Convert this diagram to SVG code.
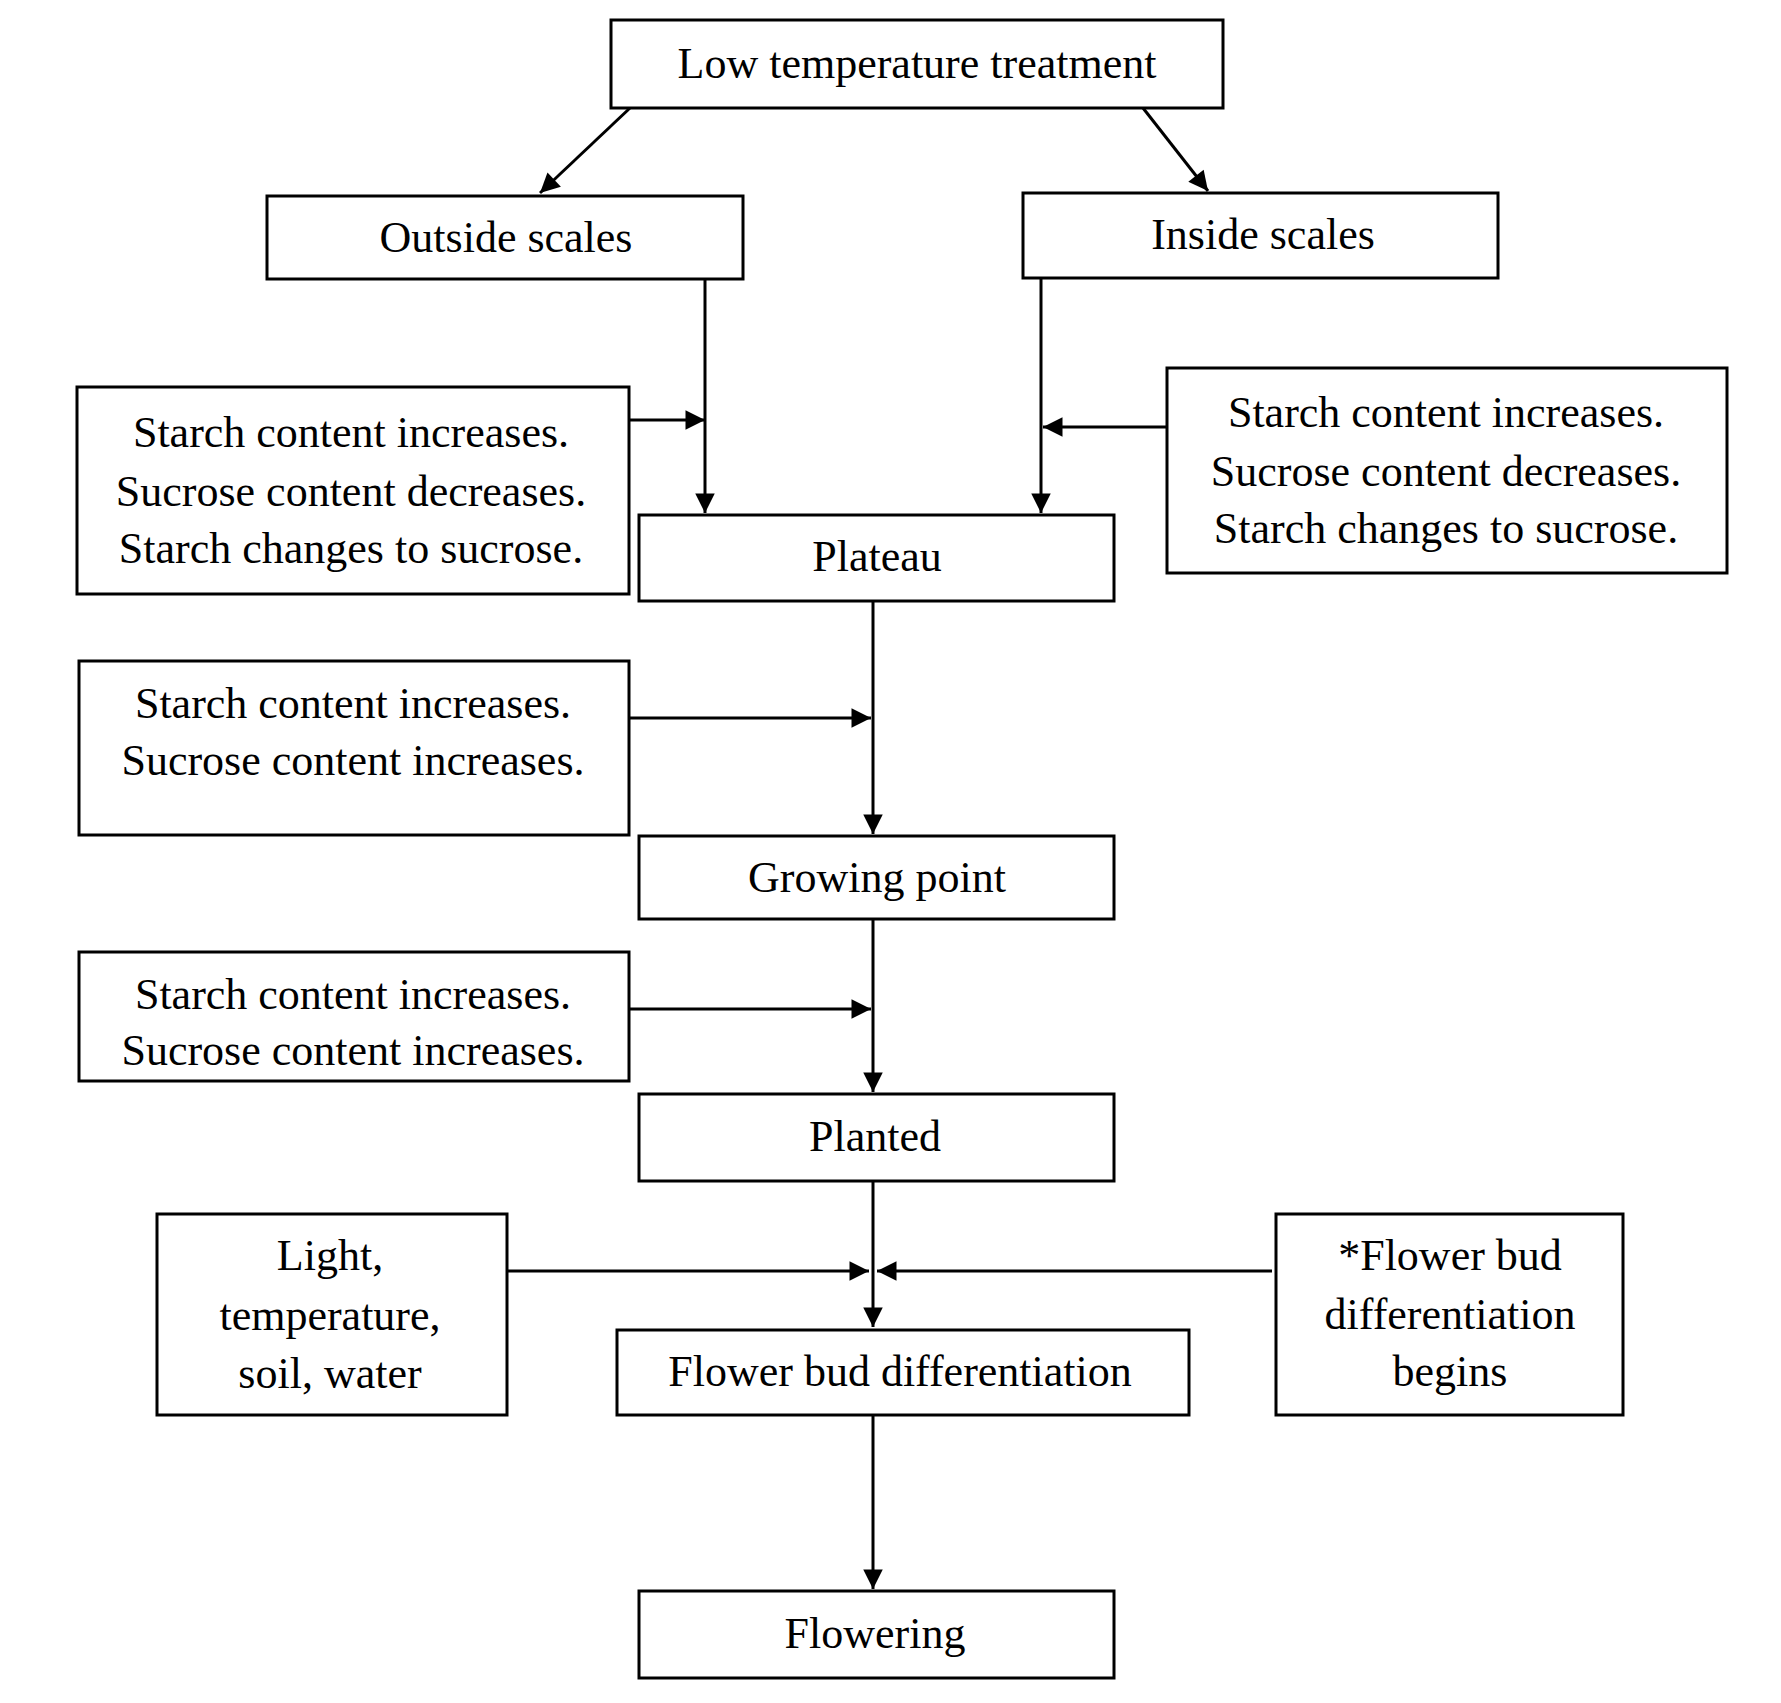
<svg xmlns="http://www.w3.org/2000/svg" width="1781" height="1703" viewBox="0 0 1781 1703">
<style>
.box{fill:#fff;stroke:#000;stroke-width:3}
.t{font-family:"Liberation Serif","Times New Roman",serif;font-size:44px;fill:#000;text-anchor:middle}
.c{stroke:#000;stroke-width:3;fill:none;marker-end:url(#ah)}
</style>
<defs>
<marker id="ah" viewBox="0 0 10 10" refX="10" refY="5" markerWidth="7.5" markerHeight="6.5" markerUnits="strokeWidth" orient="auto">
<path d="M0,0 L10,5 L0,10 z" fill="#000"/>
</marker>
</defs>
<rect width="1781" height="1703" fill="#fff"/>
<g id="connectors">
<line class="c" x1="630" y1="108" x2="540" y2="193"/>
<line class="c" x1="1143" y1="108" x2="1208" y2="191"/>
<line class="c" x1="705" y1="279" x2="705" y2="513"/>
<line class="c" x1="629" y1="420" x2="705" y2="420"/>
<line class="c" x1="1041" y1="278" x2="1041" y2="513"/>
<line class="c" x1="1167" y1="427" x2="1043" y2="427"/>
<line class="c" x1="873" y1="601" x2="873" y2="834"/>
<line class="c" x1="629" y1="718" x2="871" y2="718"/>
<line class="c" x1="873" y1="919" x2="873" y2="1092"/>
<line class="c" x1="629" y1="1009" x2="871" y2="1009"/>
<line class="c" x1="873" y1="1181" x2="873" y2="1327"/>
<line class="c" x1="505" y1="1271" x2="869" y2="1271"/>
<line class="c" x1="1272" y1="1271" x2="877" y2="1271"/>
<line class="c" x1="873" y1="1415" x2="873" y2="1589"/>
</g>
<g id="n-low">
<rect class="box" x="611" y="20" width="612" height="88"/>
<text class="t" x="917" y="78">Low temperature treatment</text>
</g>
<g id="n-outside">
<rect class="box" x="267" y="196" width="476" height="83"/>
<text class="t" x="506" y="252">Outside scales</text>
</g>
<g id="n-inside">
<rect class="box" x="1023" y="193" width="475" height="85"/>
<text class="t" x="1263" y="249">Inside scales</text>
</g>
<g id="n-left1">
<rect class="box" x="77" y="387" width="552" height="207"/>
<text class="t" x="351" y="447">Starch content increases.</text>
<text class="t" x="351" y="506">Sucrose content decreases.</text>
<text class="t" x="351" y="563">Starch changes to sucrose.</text>
</g>
<g id="n-plateau">
<rect class="box" x="639" y="515" width="475" height="86"/>
<text class="t" x="877" y="571">Plateau</text>
</g>
<g id="n-right1">
<rect class="box" x="1167" y="368" width="560" height="205"/>
<text class="t" x="1446" y="427">Starch content increases.</text>
<text class="t" x="1446" y="486">Sucrose content decreases.</text>
<text class="t" x="1446" y="543">Starch changes to sucrose.</text>
</g>
<g id="n-left2">
<rect class="box" x="79" y="661" width="550" height="174"/>
<text class="t" x="353" y="718">Starch content increases.</text>
<text class="t" x="353" y="775">Sucrose content increases.</text>
</g>
<g id="n-growing">
<rect class="box" x="639" y="836" width="475" height="83"/>
<text class="t" x="877" y="892">Growing point</text>
</g>
<g id="n-left3">
<rect class="box" x="79" y="952" width="550" height="129"/>
<text class="t" x="353" y="1009">Starch content increases.</text>
<text class="t" x="353" y="1065">Sucrose content increases.</text>
</g>
<g id="n-planted">
<rect class="box" x="639" y="1094" width="475" height="87"/>
<text class="t" x="875" y="1151">Planted</text>
</g>
<g id="n-light">
<rect class="box" x="157" y="1214" width="350" height="201"/>
<text class="t" x="330" y="1270">Light,</text>
<text class="t" x="330" y="1330">temperature,</text>
<text class="t" x="330" y="1388">soil, water</text>
</g>
<g id="n-fbd">
<rect class="box" x="617" y="1330" width="572" height="85"/>
<text class="t" x="900" y="1386">Flower bud differentiation</text>
</g>
<g id="n-begins">
<rect class="box" x="1276" y="1214" width="347" height="201"/>
<text class="t" x="1450" y="1270">*Flower bud</text>
<text class="t" x="1450" y="1329">differentiation</text>
<text class="t" x="1450" y="1386">begins</text>
</g>
<g id="n-flowering">
<rect class="box" x="639" y="1591" width="475" height="87"/>
<text class="t" x="875" y="1648">Flowering</text>
</g>
</svg>
